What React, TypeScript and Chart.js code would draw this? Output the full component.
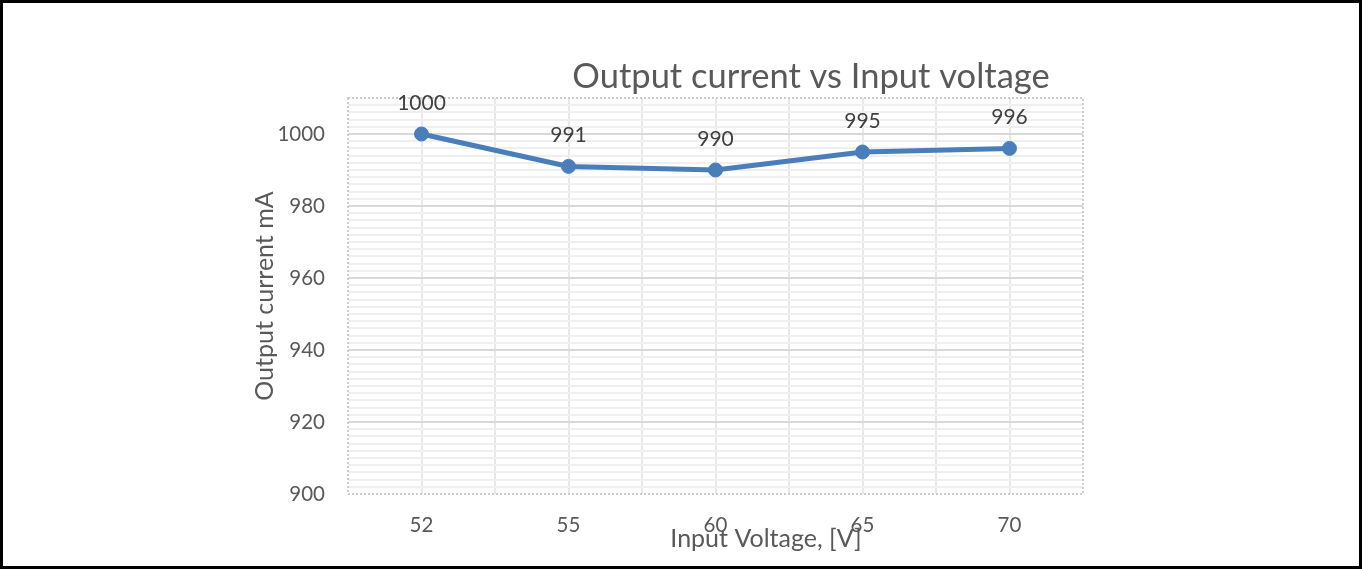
import React, { useEffect, useRef } from 'react';
import { Chart, registerables } from 'chart.js';

Chart.register(...registerables);

const categories = ['52', '55', '60', '65', '70'];
const outputCurrent = [1000, 991, 990, 995, 996];
const yMin = 900;
const yMax = 1010;
const yMajorStep = 20;
const yMinorStep = 2;

const chartTitle = 'Output current vs Input voltage';
const xTitle = 'Input Voltage, [V]';
const yTitle = 'Output current mA';

const FONT = 'Lato, "Open Sans", sans-serif';
const TEXT = '#595959';
const BLUE = '#4a7ebb';
const NONE = 'rgba(0,0,0,0)';

const overlayPlugin = {
  id: 'overlay',
  beforeDatasetsDraw(chart: any) {
    const { ctx, chartArea } = chart;
    ctx.save();
    ctx.strokeStyle = '#bfbfbf';
    ctx.lineWidth = 1.5;
    ctx.setLineDash([2, 2]);
    ctx.strokeRect(chartArea.left, chartArea.top, chartArea.right - chartArea.left, chartArea.bottom - chartArea.top);
    ctx.restore();
  },
  afterDraw(chart: any) {
    const { ctx, chartArea } = chart;
    ctx.save();
    // chart title
    ctx.fillStyle = TEXT;
    ctx.font = `34.5px ${FONT}`;
    ctx.textAlign = 'center';
    ctx.textBaseline = 'alphabetic';
    ctx.fillText(chartTitle, 811, 88);
    // x axis title
    ctx.font = `25px ${FONT}`;
    ctx.fillText(xTitle, 766, 547);
    // y axis title
    ctx.save();
    ctx.translate(273, (chartArea.top + chartArea.bottom) / 2);
    ctx.rotate(-Math.PI / 2);
    ctx.fillText(yTitle, 0, 0);
    ctx.restore();
    // data labels
    const meta = chart.getDatasetMeta(0);
    const data = chart.data.datasets[0].data;
    ctx.fillStyle = '#404040';
    ctx.font = `21px ${FONT}`;
    ctx.textBaseline = 'middle';
    meta.data.forEach((el: any, i: number) => {
      ctx.fillText(String(data[i]), el.x, el.y - 31);
    });
    ctx.restore();
  },
};

export default function App() {
  const ref = useRef<HTMLCanvasElement | null>(null);

  useEffect(() => {
    document.body.style.margin = '0';
    const canvas = ref.current;
    if (!canvas) return;
    const chart = new Chart(canvas, {
      type: 'line',
      data: {
        labels: categories,
        datasets: [
          {
            data: outputCurrent,
            borderColor: BLUE,
            backgroundColor: BLUE,
            borderWidth: 5,
            pointRadius: 7,
            pointBorderWidth: 1,
            pointBackgroundColor: BLUE,
            pointBorderColor: BLUE,
            tension: 0,
            xAxisID: 'x',
            yAxisID: 'y',
          },
        ],
      },
      options: {
        responsive: false,
        animation: false,
        layout: { padding: { left: 248, top: 98, right: 279, bottom: 15 } },
        plugins: {
          legend: { display: false },
          title: { display: false },
          tooltip: { enabled: false },
        },
        scales: {
          x: {
            type: 'category',
            position: 'bottom',
            offset: true,
            border: { display: false },
            grid: {
              offset: true,
              drawTicks: false,
              lineWidth: 2,
              color: (c: any) => (c.type === 'tick' && c.index > 0 ? '#e8e8e8' : NONE),
            },
            ticks: {
              color: TEXT,
              font: { family: FONT, size: 20.5 },
              padding: 19,
            },
            afterFit: (s: any) => {
              s.height = 60;
            },
          },
          x2: {
            type: 'category',
            position: 'bottom',
            offset: true,
            border: { display: false },
            grid: { offset: false, drawTicks: false, lineWidth: 2, color: '#e8e8e8' },
            ticks: { display: false },
            afterFit: (s: any) => {
              s.height = 0;
            },
          },
          y: {
            type: 'linear',
            position: 'left',
            min: yMin,
            max: yMax,
            border: { display: false },
            grid: {
              drawTicks: false,
              lineWidth: 2,
              color: (c: any) => (c.tick && c.tick.value === yMin ? NONE : '#d9d9d9'),
            },
            ticks: {
              stepSize: yMajorStep,
              includeBounds: false,
              color: TEXT,
              font: { family: FONT, size: 20.5 },
              padding: 23,
              callback: (v: any) => String(v),
            },
            afterFit: (s: any) => {
              s.width = 100;
            },
          },
          y2: {
            type: 'linear',
            position: 'left',
            min: yMin,
            max: yMax,
            border: { display: false },
            grid: {
              drawTicks: false,
              lineWidth: 2,
              color: (c: any) => {
                const v = c.tick ? c.tick.value : null;
                if (v == null || v % yMajorStep === 0 || v === yMax || v === yMin) return NONE;
                return '#efefef';
              },
            },
            ticks: { display: false, stepSize: yMinorStep, maxTicksLimit: 200, includeBounds: false },
            afterFit: (s: any) => {
              s.width = 0;
            },
          },
        },
      },
      plugins: [overlayPlugin],
    } as any);
    return () => chart.destroy();
  }, []);

  return (
    <div style={{ position: 'relative', width: 1362, height: 569 }}>
      <canvas ref={ref} width={1362} height={569} style={{ display: 'block' }} />
      <div
        style={{
          position: 'absolute',
          left: 0,
          top: 0,
          width: 1362,
          height: 569,
          boxSizing: 'border-box',
          border: '3px solid #000',
          pointerEvents: 'none',
        }}
      />
    </div>
  );
}
